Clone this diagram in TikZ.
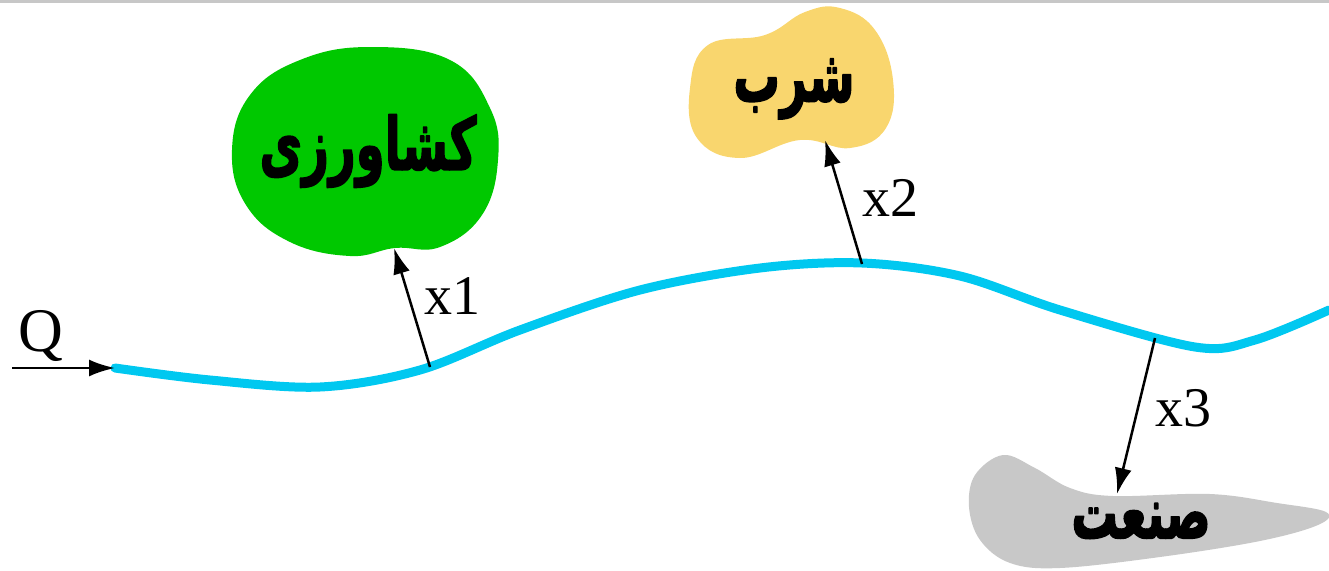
\documentclass[tikz,border=0pt]{standalone}
\usepackage{fontspec}
\setmainfont{Liberation Serif}
\newfontfamily\arabicfont[Script=Arabic,BoldFeatures={FakeBold=2.5}]{DejaVu Sans}
\TeXXeTstate=1
\usetikzlibrary{arrows.meta}
\definecolor{river}{HTML}{00C8F0}
\definecolor{farm}{HTML}{00C800}
\definecolor{drink}{HTML}{F9D66E}
\definecolor{factory}{HTML}{C8C8C8}
\tikzset{fig/.style={line join=round,x=1pt,y=-1pt,>={Latex[length=26pt,width=17pt]}},
  use/.style={font=\fontsize{50}{60}\selectfont\arabicfont\bfseries},
  lbl/.style={font=\fontsize{56}{60}\selectfont},
  take/.style={->,line width=2.5pt}}
\newcommand{\useword}[1]{\scalebox{0.93}[1.45]{\beginR #1\endR}}

\begin{document}
\begin{tikzpicture}[fig]
  \useasboundingbox (0,0) rectangle (1329,570);
  \fill[black!22] (0,0) rectangle (1329,3);
  % blobs
  \fill[farm] plot[smooth cycle,tension=0.7] coordinates {(300,60) (370,47) (450,60) (490,108) (498,160) (482,215) (440,247) (395,248) (350,256) (290,242) (246,205) (232,150) (250,95)};
  \fill[drink] plot[smooth cycle,tension=0.7] coordinates {(708,45) (765,35) (805,12) (840,8) (875,30) (893,80) (886,128) (850,148) (800,140) (740,158) (697,138) (690,88)};
  \fill[factory] plot[smooth cycle,tension=0.6] coordinates {(975,475) (1003,455) (1035,468) (1070,488) (1113,496) (1210,494) (1277,503) (1326,512) (1318,525) (1260,541) (1160,557) (1060,568) (1010,563) (980,540) (969,507)};
  \node[use] (farmtxt) at (368,151) {\useword{کشاورزی}};
  \node[use] (drinktxt) at (794,89) {\useword{شرب}};
  \node[use] (factorytxt) at (1141,521) {\useword{صنعت}};
  % river
  \draw[river,line width=9pt,line cap=round] plot[smooth,tension=0.55] coordinates {(115,368) (210,380) (320,387) (420,370) (520,330) (640,290) (760,268) (862,263) (960,276) (1060,310) (1195,347) (1255,340) (1329,310)};
  \coordinate (in) at (12,368); \coordinate (src) at (115,368);
  \coordinate (p1) at (430,367); \coordinate (t1) at (394,248);
  \coordinate (p2) at (862,264); \coordinate (t2) at (825,140);
  \coordinate (p3) at (1155,338); \coordinate (t3) at (1117,494);
  \draw[take] (in) -- (src);
  \draw[take] (p1) -- (t1);
  \draw[take] (p2) -- (t2);
  \draw[take] (p3) -- (t3);
  \node[lbl,font=\fontsize{62}{64}\selectfont] (q) at (41,336) {Q};
  \node[lbl] (x1) at (452,296) {x1};
  \node[lbl] (x2) at (890,198) {x2};
  \node[lbl] (x3) at (1183,408) {x3};
\end{tikzpicture}
\end{document}
